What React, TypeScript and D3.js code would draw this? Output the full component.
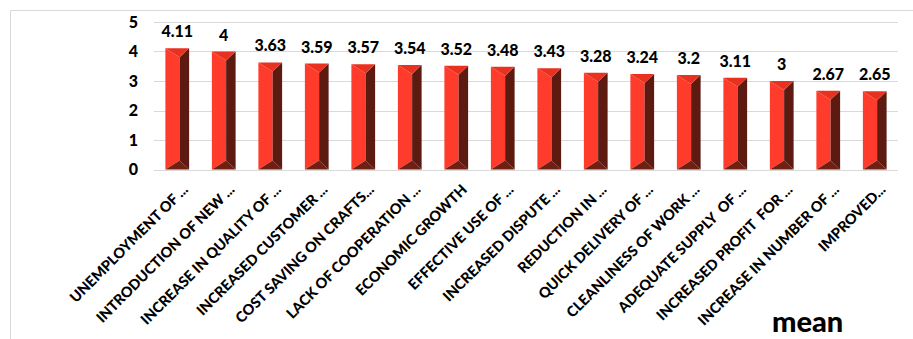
import React from "react";
import * as d3 from "d3";

const categories = [
  "UNEMPLOYMENT OF ...",
  "INTRODUCTION OF NEW ...",
  "INCREASE IN QUALITY OF ...",
  "INCREASED CUSTOMER ...",
  "COST SAVING ON CRAFTS...",
  "LACK OF COOPERATION ...",
  "ECONOMIC GROWTH",
  "EFFECTIVE USE OF ...",
  "INCREASED DISPUTE ...",
  "REDUCTION IN ...",
  "QUICK DELIVERY OF ...",
  "CLEANLINESS OF WORK ...",
  "ADEQUATE SUPPLY  OF ...",
  "INCREASED PROFIT  FOR ...",
  "INCREASE IN NUMBER OF ...",
  "IMPROVED...",
];
const meanValues = [4.11, 4, 3.63, 3.59, 3.57, 3.54, 3.52, 3.48, 3.43, 3.28, 3.24, 3.2, 3.11, 3, 2.67, 2.65];
const yTicks = [0, 1, 2, 3, 4, 5];
const seriesName = "mean";

const W = 913;
const H = 339;
const FONT = "Lato, 'Open Sans', sans-serif";

export default function App() {
  const x = d3.scaleBand<string>().domain(categories).range([154, 898]).paddingInner(0.49).paddingOuter(0.245);
  const y = d3.scaleLinear().domain([0, 5]).range([169.5, 22]);
  const bw = x.bandwidth();

  return (
    <svg width={W} height={H} style={{ position: "absolute", left: 0, top: 0, background: "#fff" }}>
      <rect x={0} y={0} width={W} height={H} fill="#fff" />
      {/* frame */}
      <line x1={10.5} x2={10.5} y1={10.5} y2={H} stroke="#d9d9d9" strokeWidth={1} />
      <line x1={10.5} x2={W} y1={10.5} y2={10.5} stroke="#d9d9d9" strokeWidth={1} />
      {/* grid */}
      {yTicks.map((t) => (
        <line key={t} x1={154} x2={898} y1={Math.round(y(t)) + 0.5} y2={Math.round(y(t)) + 0.5} stroke="#d9d9d9" strokeWidth={1} />
      ))}
      {yTicks.map((t) => (
        <text key={"yl" + t} x={138} y={y(t)} dy="0.35em" textAnchor="end" fontFamily={FONT} fontWeight="900" fontSize={16} fill="#000">
          {t}
        </text>
      ))}
      {categories.map((c, i) => {
        const v = meanValues[i];
        const x0 = x(c)!;
        const x1 = x0 + bw;
        const yt = y(v);
        const yb = y(0);
        const xa = x0 + bw * 0.6;
        const d = 9;
        const pts = (a: number[][]) => a.map((p) => p.join(",")).join(" ");
        return (
          <g key={c}>
            <polygon points={pts([[x0, yt], [xa, yt + d], [xa, yb - d], [x0, yb]])} fill="#ff3b2b" />
            <polygon points={pts([[x1, yt], [xa, yt + d], [xa, yb - d], [x1, yb]])} fill="#5c1a11" />
            <polygon points={pts([[x0, yt], [x1, yt], [xa, yt + d]])} fill="#e8321f" />
            <polygon points={pts([[x0, yb], [x1, yb], [xa, yb - d]])} fill="#701f13" />
            <text x={x0 + bw / 2} y={yt - 11} textAnchor="middle" fontFamily={FONT} fontWeight="900" fontSize={16} fill="#000">
              {v}
            </text>
          </g>
        );
      })}
      {categories.map((c) => {
        const cx = x(c)! + bw / 2;
        return (
          <text
            key={"cl" + c}
            transform={`translate(${cx + 8},${187}) rotate(-45)`}
            textAnchor="end"
            dy="0.35em"
            fontFamily={FONT}
            fontWeight="900"
            fontSize={14.5}
            fill="#000"
            style={{ whiteSpace: "pre" }}
          >
            {c}
          </text>
        );
      })}
      <text x={772} y={332} fontFamily={FONT} fontWeight="900" fontSize={29} fill="#000">
        {seriesName}
      </text>
    </svg>
  );
}
